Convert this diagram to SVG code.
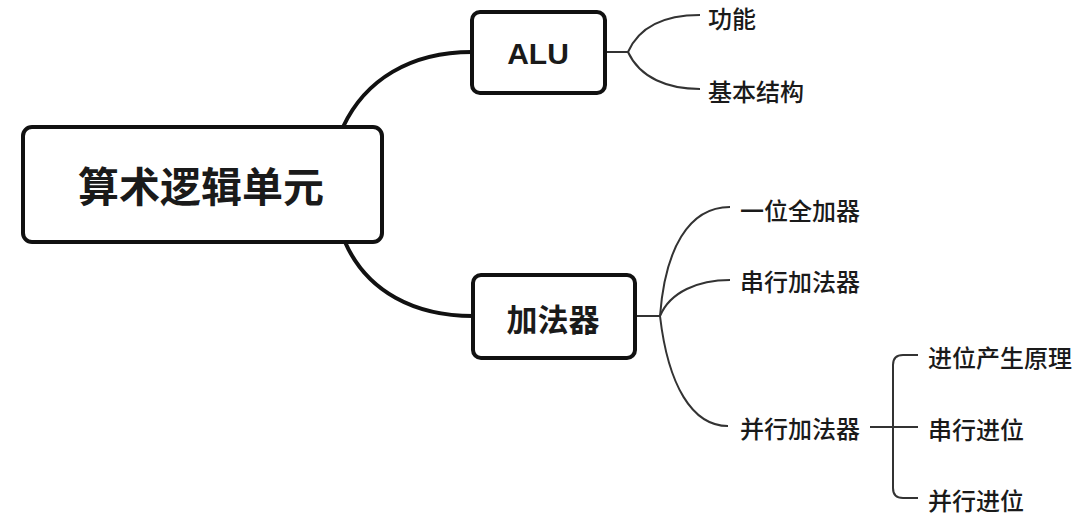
<svg xmlns="http://www.w3.org/2000/svg" width="1081" height="521" viewBox="0 0 1081 521">
<style>
.box{fill:#fff;stroke:#111;stroke-width:4}
.main{fill:none;stroke:#111;stroke-width:4}
.thin{fill:none;stroke:#333;stroke-width:2}
text{font-family:"Noto Sans CJK SC","Noto Sans",sans-serif;fill:#1a1a1a;dominant-baseline:central}
.t1{font-size:41px;font-weight:bold;text-anchor:middle}
.t2{font-size:31px;font-weight:bold;text-anchor:middle}
.alu{font-family:"Liberation Sans",Arial,sans-serif;font-size:30px;font-weight:bold;text-anchor:middle}
.t3{font-size:24px;font-weight:500}
</style>
<rect width="1081" height="521" fill="#fff"/>
<g id="connectors">
<path class="main" d="M343,127 C365,80 410,52 472,52"/>
<path class="main" d="M345,242 C367,292 415,316 473,316"/>
<path class="thin" d="M605,52 H628"/>
<path class="thin" d="M628,52 C640,25 668,15 700,15"/>
<path class="thin" d="M628,52 C640,78 668,89 700,89"/>
<path class="thin" d="M635,316 H660"/>
<path class="thin" d="M660,316 C665,250 688,207 730,207"/>
<path class="thin" d="M660,316 C670,292 698,280 730,280"/>
<path class="thin" d="M660,316 C668,385 692,426 728,426"/>
<path class="thin" stroke-width="2.5" d="M870,427 H918"/>
<path class="thin" stroke-width="2.5" d="M918,355 H903 Q893,355 893,365 V488 Q893,498 903,498 H918"/>
</g>
<g id="root">
<rect class="box" x="23" y="127" width="359" height="115" rx="9"/>
<text class="t1" x="201" y="184">算术逻辑单元</text>
</g>
<g id="alu">
<rect class="box" x="472" y="12" width="133" height="81" rx="8"/>
<text class="alu" x="538" y="53">ALU</text>
</g>
<g id="adder">
<rect class="box" x="473" y="275" width="162" height="83" rx="8"/>
<text class="t2" x="553" y="317">加法器</text>
</g>
<g id="func"><text class="t3" x="708" y="17">功能</text></g>
<g id="struct"><text class="t3" x="708" y="90">基本结构</text></g>
<g id="onebit"><text class="t3" x="740" y="209">一位全加器</text></g>
<g id="serial"><text class="t3" x="740" y="280">串行加法器</text></g>
<g id="parallel"><text class="t3" x="740" y="427">并行加法器</text></g>
<g id="carrygen"><text class="t3" x="928" y="356">进位产生原理</text></g>
<g id="serialcarry"><text class="t3" x="928" y="428">串行进位</text></g>
<g id="parallelcarry"><text class="t3" x="928" y="499">并行进位</text></g>
</svg>
